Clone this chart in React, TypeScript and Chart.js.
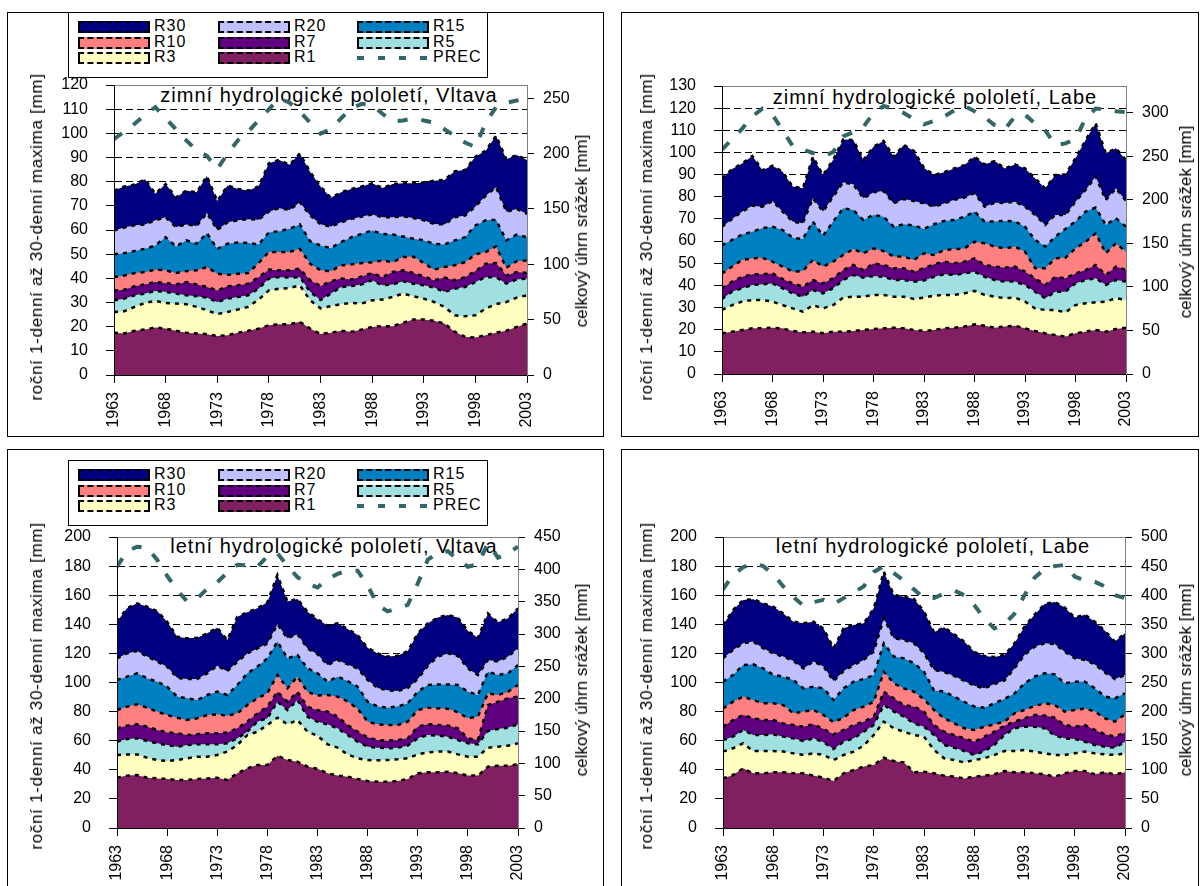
import React, { useEffect, useRef } from "react";
import { Chart, registerables } from "chart.js";

Chart.register(...registerables);

const FONT = "'Liberation Sans', Arial, Helvetica, sans-serif";
Chart.defaults.font.family = FONT;

// ---------- categories / ticks ----------
const YEARS = [
  1963, 1964, 1965, 1966, 1967, 1968, 1969, 1970, 1971, 1972,
  1973, 1974, 1975, 1976, 1977, 1978, 1979, 1980, 1981, 1982,
  1983, 1984, 1985, 1986, 1987, 1988, 1989, 1990, 1991, 1992,
  1993, 1994, 1995, 1996, 1997, 1998, 1999, 2000, 2001, 2002,
  2003,
];
const YEAR_TICKS = [1963, 1968, 1973, 1978, 1983, 1988, 1993, 1998, 2003];
const SERIES_NAMES = ["R30", "R20", "R15", "R10", "R7", "R5", "R3", "R1"];
const SERIES_COLORS = ["#000080", "#C0C0FF", "#0080C0", "#FF8080", "#600080", "#A0E0E0", "#FFFFC0", "#802060"];
const PREC_NAME = "PREC";
const PREC_COLOR = "#336666";

// ---------- winter, Vltava ----------
const W_VLT_R30 = [76.3, 78, 78.8, 81, 75, 79, 73.5, 76.3, 75.6, 82.3, 72, 78.4, 77, 76.3, 78, 87.6, 89, 87, 91.7, 84, 78, 73.3, 75.6, 77, 78, 79.3, 77.4, 79, 79.3, 79.3, 79.7, 80.4, 80.7, 84.3, 84.8, 90.3, 92.8, 99, 89.3, 91, 89];
const W_VLT_R20 = [59.8, 61, 62, 62.3, 64, 65.3, 61.2, 62.3, 61.7, 67, 60, 63.2, 64, 64.5, 64.2, 67.6, 69, 68.3, 71.5, 66, 62.4, 61.4, 63.2, 64.6, 65.6, 66.4, 65.3, 65.3, 65.6, 65, 64, 62.5, 62.3, 65.3, 66, 69.7, 74.2, 77.7, 67.6, 68.7, 66.7];
const W_VLT_R15 = [50, 50.4, 51.3, 52.2, 53.6, 57, 53.2, 55.7, 54.3, 58.7, 52.2, 54.3, 54.8, 54.6, 54, 59, 59.5, 60.5, 62.3, 55.3, 53.6, 52.5, 55, 57, 58.4, 59.8, 58.4, 58.1, 57.3, 56.4, 55.7, 54.3, 54, 55.7, 57, 61.9, 64, 64.2, 55.7, 58.1, 57];
const W_VLT_R10 = [40.5, 41.2, 42.2, 42.6, 43.6, 43.3, 42.2, 43, 43.3, 44.7, 41.9, 41.5, 41.9, 42.2, 46.3, 50.9, 50.9, 50.9, 52.2, 46, 43.3, 43, 45.4, 45.8, 46.3, 46.7, 47.4, 46.7, 48.8, 49, 46.3, 43.6, 44.7, 45.4, 46.7, 49.9, 50.9, 53.2, 44.4, 47.1, 47.4];
const W_VLT_R7 = [35, 35.3, 36.7, 37.5, 38.5, 38, 37.5, 38.5, 37.5, 36.4, 35, 36.7, 37.1, 37.8, 40.5, 43.6, 43.3, 43.3, 44, 39.2, 36.8, 38.8, 39.9, 39.5, 40.8, 42.2, 40.5, 42.6, 43.3, 42.2, 40.8, 39.2, 40.3, 39.2, 40.5, 43, 46, 46.3, 41.2, 42.6, 42.2];
const W_VLT_R5 = [30.9, 31.6, 33, 33.7, 34.8, 34.4, 33.7, 33, 32.6, 32, 30.2, 31.6, 32.3, 33, 35.7, 39.9, 40.5, 40.3, 40.5, 34.4, 31, 33.7, 36.4, 36.8, 37.5, 39.2, 37.1, 37.5, 38.8, 37.8, 37.1, 36.2, 34.4, 35.7, 36.4, 38.5, 40.5, 40.5, 37.8, 39.5, 39.9];
const W_VLT_R3 = [26.1, 26.4, 28.2, 29.8, 30.7, 29.8, 29.6, 29.3, 28.2, 26.8, 25.2, 26.1, 27.1, 28.2, 31.2, 35, 35.7, 36, 37.1, 30.9, 27.6, 28.5, 29.3, 29.8, 29.6, 30.9, 31.2, 32.3, 33.7, 32.6, 31.6, 30.2, 28.2, 24.7, 24.3, 24.7, 27.5, 29.3, 30.2, 32, 33];
const W_VLT_R1 = [17.5, 17.2, 18.3, 18.8, 19.7, 19.2, 18.3, 17.5, 17.2, 16.9, 16.1, 16.5, 17.5, 18.3, 19.2, 20.6, 21, 21, 22, 19.2, 17, 17.5, 18.3, 17.9, 18.8, 19.9, 20.2, 20.2, 21.6, 23, 23, 22.4, 21.3, 17.9, 15.8, 15.5, 16.5, 17.5, 18.3, 19.9, 21.3];
const W_VLT_PREC = [213, 220, 227, 235, 242, 232, 222, 212, 203, 198, 186, 200, 212, 220, 230, 240, 250, 246, 238, 228, 218, 222, 232, 241, 245, 244, 236, 229, 230, 232, 230, 228, 222, 216, 210, 206, 228, 242, 246, 248, 250];

// ---------- winter, Labe ----------
const W_LAB_R30 = [88.3, 92.5, 95, 98.4, 92, 94, 91.3, 84.6, 83.8, 98.1, 89.8, 96.6, 105.9, 105.6, 96.6, 102.6, 105.2, 98.1, 103.4, 100.7, 93, 89.8, 91.1, 92.8, 94.3, 98.1, 94.6, 96.1, 92.8, 94.6, 92.8, 88.3, 83.8, 89.8, 90.1, 97.4, 105.6, 113.2, 99.6, 101.9, 96.6];
const W_LAB_R20 = [66.5, 70, 73.3, 76, 75.5, 78.1, 73.3, 68.8, 68, 79.3, 73.3, 80, 86.5, 85.6, 79.3, 82, 82.6, 77, 79, 78.1, 77, 75.5, 77, 78.7, 79.6, 81.6, 75.5, 77.3, 77.2, 77.8, 75.5, 71.8, 67.3, 71.8, 71.8, 77.8, 83.1, 89.1, 78.5, 83.8, 78.1];
const W_LAB_R15 = [58.2, 60.5, 63, 64.2, 65.8, 66.5, 65, 61.5, 60.9, 68.8, 62.4, 68.8, 74.8, 74, 69.5, 71.8, 71, 66.5, 67.6, 67, 65.5, 67.6, 69.1, 69.5, 71, 73.3, 68.8, 68.8, 69.1, 68.8, 66.5, 60.5, 57.5, 62, 65.5, 68.8, 73.3, 75.1, 67.3, 70.3, 66.5];
const W_LAB_R10 = [45.4, 48.5, 51.5, 52.2, 52.5, 50.7, 48.5, 46.2, 46.5, 51.5, 48.5, 50.7, 53.7, 56.4, 54.5, 56.7, 55.5, 53, 53, 51.5, 54.5, 53.7, 56, 56.4, 56.7, 59.7, 59, 57.5, 56.7, 57.5, 55.2, 47.7, 47.7, 52.2, 52.5, 56.7, 59.7, 63.5, 54.5, 59, 55.2];
const W_LAB_R7 = [38.7, 41.7, 43.9, 45, 45, 45.4, 42.9, 40.9, 39.4, 42.4, 40.9, 43.2, 46.9, 49.2, 46.9, 49.9, 49.2, 47.7, 47.7, 46.2, 47.8, 49.5, 50.7, 50, 50.7, 52.2, 49.2, 48.5, 48, 48.5, 46.2, 43.2, 40.2, 43.9, 43.2, 45.4, 46.9, 49.2, 44.7, 48.5, 46.9];
const W_LAB_R5 = [33.9, 37.2, 38.7, 40.2, 40.5, 40.9, 38.7, 36.4, 34.9, 37.9, 36.4, 38.7, 42.4, 44.7, 43.5, 44.2, 43.9, 42.4, 42.4, 41.7, 42.2, 43.9, 45, 44.7, 45.4, 46.2, 43.9, 42.4, 41.7, 41.7, 40.2, 37.1, 34.2, 37.1, 37.1, 40.9, 42.4, 43.2, 40.2, 42.4, 41.7];
const W_LAB_R3 = [28.9, 31.1, 32.7, 33.4, 33.4, 32.7, 31.1, 29.6, 28.1, 31.1, 29.6, 31.1, 34.5, 34.9, 34.9, 35.7, 35.7, 34.9, 34.9, 33.9, 34.5, 35.4, 35.7, 35.7, 36.4, 37.5, 35.7, 34.9, 34.2, 34.5, 32.7, 29.6, 28.9, 28.9, 27.8, 31.1, 31.9, 32.4, 32.7, 34.2, 33.4];
const W_LAB_R1 = [18.4, 19.1, 19.9, 20.6, 20.6, 20.9, 20.6, 19.4, 18.8, 19.1, 18.4, 19.1, 19.1, 19.4, 19.9, 20.3, 20.6, 20.9, 20.6, 19.9, 19.4, 19.9, 20.6, 20.9, 21.4, 22.4, 21.8, 20.9, 21.4, 21.8, 20.6, 19.4, 18.4, 17.6, 16.9, 18.4, 19.1, 19.9, 19.1, 20.3, 20.9];
const W_LAB_PREC = [258, 270, 282, 296, 305, 298, 280, 262, 258, 254, 250, 255, 273, 278, 284, 300, 308, 305, 300, 293, 287, 291, 296, 303, 308, 302, 295, 286, 281, 296, 298, 288, 280, 263, 265, 270, 294, 305, 304, 302, 301];

// ---------- summer, Vltava ----------
const S_VLT_R30 = [141.8, 151, 154.4, 152.1, 149.1, 141.8, 131.5, 130.4, 130.8, 133.8, 137.7, 129.2, 145.2, 148.2, 151, 155.1, 173.9, 155.6, 157.4, 148.7, 143.5, 139.1, 140.7, 136.8, 132.6, 123.9, 120, 117.8, 118.4, 121.6, 133.8, 140.7, 144.6, 146.4, 144.6, 135.4, 130.8, 147.5, 141.4, 144.1, 151];
const S_VLT_R20 = [116.6, 120, 121.6, 117.8, 114.4, 110.9, 103.3, 102.4, 102.4, 106.3, 111.5, 107.8, 114.2, 120, 123.4, 126.8, 140, 130.4, 133.2, 123.4, 119.5, 112, 115.5, 112.4, 109.7, 101.7, 96.2, 94.7, 94.1, 96.2, 102.4, 111.3, 117.8, 120, 118.2, 109.7, 105.2, 115.5, 114.4, 117.8, 123.5];
const S_VLT_R15 = [101.7, 104, 106.3, 102.9, 100.6, 97.1, 90.3, 89.1, 88, 91.4, 93.7, 91.4, 98.3, 106.3, 110.9, 116.6, 128.1, 116.6, 118.9, 109.7, 106.3, 100.6, 104, 101, 97.1, 86.8, 83.5, 82.7, 83.5, 85.7, 93.7, 98.3, 98.7, 98.7, 98.3, 93.7, 91.4, 107.4, 105.2, 106.3, 112];
const S_VLT_R10 = [81.1, 83.4, 85, 82.7, 80, 77.7, 75.8, 74.2, 75.4, 77.7, 78.1, 77.2, 78.8, 84.5, 89.1, 92.6, 105.2, 96, 104, 93.7, 91, 91.4, 90.3, 87, 82, 73.1, 71.3, 70.8, 70.8, 73.1, 81.1, 82.7, 82.3, 82, 79.6, 75.4, 76.5, 92.6, 91.4, 93.7, 98.3];
const S_VLT_R7 = [68.5, 70.3, 71.3, 69.6, 67.4, 65.7, 65.1, 63.9, 64.4, 65.1, 65.1, 65.7, 68.5, 73.1, 78.8, 83.4, 93.7, 86.8, 93.7, 83.4, 81, 80, 76.5, 70.8, 66.2, 62.3, 60.5, 60, 60.5, 61.6, 69.6, 71.3, 70.8, 70.4, 68.5, 61.6, 60.5, 84.5, 86.8, 89.1, 90.3];
const S_VLT_R5 = [59.3, 61.2, 61.6, 59.8, 58.2, 57, 55.9, 57, 57.5, 57.5, 57.5, 58.2, 61.6, 66.2, 73.1, 75.4, 86.8, 81.1, 88, 76.5, 73, 71.3, 68.5, 63.9, 59.3, 55.9, 55.2, 54.8, 55.2, 56.6, 61.6, 63.9, 63.5, 62.8, 60.5, 58.2, 57.5, 66.7, 68, 69, 71.3];
const S_VLT_R3 = [50.2, 50.6, 50.6, 48.3, 46.7, 46, 46.7, 47.9, 49, 49, 50.2, 52.5, 57, 63.9, 66.2, 70.8, 75.8, 71.3, 74.2, 66.2, 63.4, 57.5, 55.2, 50.6, 47.9, 46.7, 46.5, 46.7, 47.2, 47.9, 50.6, 52, 52.5, 52.5, 50.6, 49, 49, 55.2, 55.9, 56.6, 58.2];
const S_VLT_R1 = [34.6, 36, 36.4, 34.6, 34.1, 33.7, 33, 33, 33.7, 34.1, 34.6, 33, 37.6, 41, 43.3, 43.3, 49.7, 46.7, 45.6, 42.2, 40.7, 37.6, 36, 35.3, 33.7, 32.3, 31.8, 31.8, 32.3, 33.7, 37.6, 38.3, 38.3, 38.7, 37.6, 36, 36, 42.2, 42.8, 42.8, 43.8];
const S_VLT_PREC = [404, 428, 435, 434, 415, 390, 368, 350, 355, 370, 380, 395, 407, 406, 404, 420, 425, 405, 388, 378, 372, 385, 393, 398, 398, 375, 345, 335, 340, 345, 378, 415, 425, 428, 415, 404, 408, 440, 418, 425, 435];

// ---------- summer, Labe ----------
const S_LAB_R30 = [139.5, 149.8, 156.7, 157.2, 154.4, 152.1, 147.5, 141.8, 140.7, 141.8, 137.2, 123.5, 137.2, 139.5, 140.7, 151, 176.2, 160.1, 159, 157.4, 149, 134.5, 137.9, 133.2, 128.1, 121.1, 118.2, 117.6, 118.9, 126.8, 138.4, 146.6, 153.9, 155.3, 151.5, 144.6, 146.6, 141.8, 135.5, 128.1, 133.8];
const S_LAB_R20 = [116.6, 122.3, 126.9, 128.1, 123.5, 120, 117.8, 114.8, 109.7, 114.4, 111, 101, 107.9, 112, 115.5, 121.2, 144.1, 130.4, 129.2, 126.9, 120, 108.6, 107.2, 104.5, 101.1, 97.8, 96, 99, 101.3, 109.7, 118.9, 124.5, 126.9, 126.4, 121.2, 116.6, 115.5, 112.4, 106.8, 102.4, 105.2];
const S_LAB_R15 = [100.6, 105.2, 112, 112.5, 109.7, 105.2, 104, 101.7, 96, 97.1, 96, 88, 96, 100.6, 102.4, 105.2, 126.9, 117.8, 116.6, 113.2, 107.4, 94.5, 93.7, 90.3, 86.6, 83.5, 82.7, 85.7, 88.7, 92.4, 99.4, 104, 106.3, 105.6, 99.4, 100.6, 100.6, 96, 90.3, 89.1, 92.6];
const S_LAB_R10 = [82.2, 86.8, 90.3, 88, 85.7, 85.7, 84.5, 78.8, 80, 81.1, 77.7, 72.6, 75.8, 81.1, 83.4, 86.8, 107.4, 99.4, 96, 93.7, 88.5, 81.1, 75.4, 71.9, 68.5, 67.4, 69.6, 71.3, 73.1, 78.8, 81.1, 83.9, 85.7, 84.5, 80, 81.1, 82.2, 80, 75.4, 73.1, 78.1];
const S_LAB_R7 = [69.6, 74.2, 77.7, 75.4, 74.2, 74.2, 71.9, 70.8, 69.6, 71.3, 68, 64.4, 67.4, 70.8, 73.1, 76.5, 93.7, 89.1, 84.5, 83.4, 80, 70.8, 66.2, 63.9, 61.6, 59.3, 62.8, 66.2, 70.3, 73.1, 75.4, 77.7, 77.3, 75.8, 70.8, 69.6, 70.8, 67.4, 64.4, 62.8, 65.7];
const S_LAB_R5 = [60.5, 62.8, 67.4, 63.9, 63.9, 64.4, 62.8, 61.6, 59.8, 61.6, 58.9, 54.3, 59.3, 61.6, 66.2, 70.8, 84.5, 80, 76.5, 71.9, 69.6, 63.9, 57, 55.2, 52.9, 50.2, 52.9, 57, 63.9, 68.5, 69.6, 69.6, 68.5, 63.5, 61.6, 61.2, 59.3, 57, 55.9, 55.2, 59.3];
const S_LAB_R3 = [52.5, 54.8, 58.2, 52.9, 52.9, 52.9, 52.5, 51.3, 50.2, 51.3, 50.2, 46.7, 50.2, 52.5, 56.6, 63.9, 73.1, 68.5, 66.2, 63.9, 62.8, 53.6, 47.9, 46.7, 45.1, 46.7, 47.9, 50.2, 52.9, 52.9, 53.6, 52.5, 51.3, 50.2, 50.2, 51.3, 52.5, 51.3, 50.6, 50.2, 51.3];
const S_LAB_R1 = [34.1, 36.4, 41, 37.6, 37.6, 38.3, 38.3, 37.6, 37.6, 36, 34.6, 32.3, 37.6, 39.9, 42.2, 43.3, 48.3, 46, 45.1, 38.3, 38.7, 37.6, 36, 35.3, 34.1, 35.3, 36, 36.9, 39.2, 38.3, 38.3, 37.6, 36.9, 35.3, 37.6, 39.2, 39.2, 36.9, 38.3, 36.9, 38.3];
const S_LAB_PREC = [410, 435, 448, 455, 450, 436, 415, 397, 382, 388, 392, 385, 395, 405, 415, 440, 450, 438, 425, 410, 395, 395, 403, 408, 400, 383, 360, 343, 350, 368, 400, 430, 445, 450, 452, 432, 425, 423, 415, 400, 395];

// ---------- texts ----------
const TITLE_W_VLT = "zimní hydrologické pololetí, Vltava";
const TITLE_W_LAB = "zimní hydrologické pololetí, Labe";
const TITLE_S_VLT = "letní hydrologické pololetí, Vltava";
const TITLE_S_LAB = "letní hydrologické pololetí, Labe";
const Y_LEFT_TITLE = "roční 1-denní až 30-denní maxima [mm]";
const Y_RIGHT_TITLE = "celkový úhrn srážek [mm]";

type Box = { left: number; top: number; width: number; height: number };
type PanelCfg = {
  frame: Box;
  canvas: Box;
  padTop: number;
  wl: number;
  wr: number;
  hx: number;
  yMax: number;
  yStep: number;
  y1Max: number;
  series: number[][];
  prec: number[];
  title: string;
  titleX: number;
  titleY: number;
  leftTitleX: number;
  leftTitleY: number;
  rightTitleX: number;
  rightTitleY: number;
  legendTop: number | null;
};

const PANELS: PanelCfg[] = [
  {
    frame: { left: 7, top: 12, width: 597, height: 425 },
    canvas: { left: 7, top: 12, width: 597, height: 425 },
    padTop: 73, wl: 107, wr: 77, hx: 62,
    yMax: 120, yStep: 10, y1Max: 262,
    series: [W_VLT_R30, W_VLT_R20, W_VLT_R15, W_VLT_R10, W_VLT_R7, W_VLT_R5, W_VLT_R3, W_VLT_R1],
    prec: W_VLT_PREC, title: TITLE_W_VLT, titleX: 329, titleY: 84,
    leftTitleX: 37, leftTitleY: 237, rightTitleX: 582, rightTitleY: 231, legendTop: 12,
  },
  {
    frame: { left: 621, top: 12, width: 578, height: 425 },
    canvas: { left: 621, top: 12, width: 578, height: 425 },
    padTop: 74, wl: 101, wr: 73, hx: 63,
    yMax: 130, yStep: 10, y1Max: 331,
    series: [W_LAB_R30, W_LAB_R20, W_LAB_R15, W_LAB_R10, W_LAB_R7, W_LAB_R5, W_LAB_R3, W_LAB_R1],
    prec: W_LAB_PREC, title: TITLE_W_LAB, titleX: 935, titleY: 86,
    leftTitleX: 647, leftTitleY: 237, rightTitleX: 1186, rightTitleY: 222, legendTop: null,
  },
  {
    frame: { left: 7, top: 449, width: 597, height: 445 },
    canvas: { left: 7, top: 449, width: 597, height: 437 },
    padTop: 88, wl: 110, wr: 86, hx: 58,
    yMax: 200, yStep: 20, y1Max: 450,
    series: [S_VLT_R30, S_VLT_R20, S_VLT_R15, S_VLT_R10, S_VLT_R7, S_VLT_R5, S_VLT_R3, S_VLT_R1],
    prec: S_VLT_PREC, title: TITLE_S_VLT, titleX: 334, titleY: 535,
    leftTitleX: 37, leftTitleY: 686, rightTitleX: 582, rightTitleY: 680, legendTop: 460,
  },
  {
    frame: { left: 621, top: 449, width: 578, height: 445 },
    canvas: { left: 621, top: 449, width: 578, height: 437 },
    padTop: 88, wl: 102, wr: 74, hx: 58,
    yMax: 200, yStep: 20, y1Max: 500,
    series: [S_LAB_R30, S_LAB_R20, S_LAB_R15, S_LAB_R10, S_LAB_R7, S_LAB_R5, S_LAB_R3, S_LAB_R1],
    prec: S_LAB_PREC, title: TITLE_S_LAB, titleX: 933, titleY: 535,
    leftTitleX: 647, leftTitleY: 686, rightTitleX: 1186, rightTitleY: 680, legendTop: null,
  },
];

const plotBorder = {
  id: "plotBorder",
  afterDatasetsDraw(chart: any) {
    const { ctx, chartArea } = chart;
    ctx.save();
    ctx.strokeStyle = "#808080";
    ctx.lineWidth = 1;
    ctx.beginPath();
    ctx.moveTo(chartArea.left, chartArea.top + 0.5);
    ctx.lineTo(chartArea.right, chartArea.top + 0.5);
    ctx.stroke();
    ctx.restore();
  },
};

function PanelChart({ cfg }: { cfg: PanelCfg }) {
  const ref = useRef<HTMLCanvasElement>(null);
  useEffect(() => {
    if (!ref.current) return;
    const datasets: any[] = cfg.series.map((vals, i) => ({
      label: SERIES_NAMES[i],
      data: vals,
      yAxisID: "y",
      fill: "origin",
      backgroundColor: SERIES_COLORS[i],
      borderColor: "#000000",
      borderWidth: 2.5,
      borderDash: [4, 5],
      pointRadius: 0,
      tension: 0,
      order: 8 - i,
    }));
    datasets.push({
      label: PREC_NAME,
      data: cfg.prec,
      yAxisID: "y1",
      fill: false,
      borderColor: PREC_COLOR,
      borderWidth: 4,
      borderDash: [10, 14],
      pointRadius: 0,
      tension: 0,
      order: 0,
    });
    const tickFont = { family: FONT, size: 16 };
    const chart = new Chart(ref.current, {
      type: "line",
      data: { labels: YEARS, datasets },
      plugins: [plotBorder],
      options: {
        animation: false,
        responsive: false,
        maintainAspectRatio: false,
        layout: { padding: { top: cfg.padTop, left: 0, right: 0, bottom: 0 } },
        plugins: { legend: { display: false }, tooltip: { enabled: false }, title: { display: false } },
        scales: {
          x: {
            type: "linear",
            min: 1963,
            max: 2003,
            afterBuildTicks: (s: any) => {
              s.ticks = YEAR_TICKS.map((v) => ({ value: v }));
            },
            afterFit: (s: any) => {
              s.height = cfg.hx;
            },
            grid: { drawOnChartArea: false, drawTicks: true, tickLength: 8, tickColor: "#000", color: "#000" },
            border: { color: "#000", width: 1, z: 1 },
            ticks: {
              minRotation: 90,
              maxRotation: 90,
              autoSkip: false,
              padding: 9,
              color: "#000",
              font: tickFont,
              callback: (v: any) => String(v),
            },
          },
          y: {
            position: "left",
            min: 0,
            max: cfg.yMax,
            afterFit: (s: any) => {
              s.width = cfg.wl;
            },
            ticks: { stepSize: cfg.yStep, autoSkip: false, color: "#000", font: tickFont, padding: 18, callback: (v: any) => String(v) },
            grid: { color: "#000", lineWidth: 1, tickColor: "#000", tickLength: 8 },
            border: { color: "#000", width: 1, dash: [7, 4], z: 1 },
          },
          y1: {
            position: "right",
            min: 0,
            max: cfg.y1Max,
            afterFit: (s: any) => {
              s.width = cfg.wr;
            },
            ticks: { stepSize: 50, autoSkip: false, includeBounds: false, color: "#000", font: tickFont, padding: 9, callback: (v: any) => String(v) },
            grid: { drawOnChartArea: false, tickColor: "#000", tickLength: 7 },
            border: { color: "#808080", width: 1, z: 1 },
          },
        },
      } as any,
    });
    return () => chart.destroy();
  }, [cfg]);
  const c = cfg.canvas;
  return (
    <canvas
      ref={ref}
      width={c.width}
      height={c.height}
      style={{ position: "absolute", left: c.left, top: c.top, width: c.width, height: c.height }}
    />
  );
}

const LEGEND_ITEMS = [...SERIES_NAMES.map((n, i) => ({ name: n, color: SERIES_COLORS[i] })), { name: PREC_NAME, color: PREC_COLOR }];

function Legend({ left, top }: { left: number; top: number }) {
  const colX = [9, 149, 288];
  const rowY = [8, 24, 39];
  return (
    <div
      style={{
        position: "absolute",
        left,
        top,
        width: 420,
        height: 66,
        boxSizing: "border-box",
        border: "1px solid #000",
        background: "#fff",
      }}
    >
      {LEGEND_ITEMS.map((it, i) => {
        const c = i % 3;
        const r = Math.floor(i / 3);
        const isLine = it.name === PREC_NAME;
        return (
          <React.Fragment key={it.name}>
            {isLine ? (
              <svg style={{ position: "absolute", left: colX[c], top: rowY[r], width: 72, height: 12 }} width={72} height={12}>
                <line x1={0} y1={6} x2={72} y2={6} stroke={PREC_COLOR} strokeWidth={4} strokeDasharray="7 14" />
              </svg>
            ) : (
              <div
                style={{
                  position: "absolute",
                  left: colX[c],
                  top: rowY[r],
                  width: 72,
                  height: 12,
                  boxSizing: "border-box",
                  background: it.color,
                  border: "2px dashed #000",
                }}
              />
            )}
            <div
              style={{
                position: "absolute",
                left: colX[c] + 76,
                top: rowY[r] - 4,
                fontFamily: FONT,
                fontSize: 16,
                lineHeight: "18px",
                letterSpacing: 1,
                color: "#000",
                whiteSpace: "nowrap",
              }}
            >
              {it.name}
            </div>
          </React.Fragment>
        );
      })}
    </div>
  );
}

function RotText({ x, y, text, spacing }: { x: number; y: number; text: string; spacing: number }) {
  return (
    <div
      style={{
        position: "absolute",
        left: x,
        top: y,
        transform: "translate(-50%, -50%) rotate(-90deg)",
        fontFamily: FONT,
        fontSize: 17,
        lineHeight: "20px",
        letterSpacing: spacing,
        whiteSpace: "nowrap",
        color: "#000",
      }}
    >
      {text}
    </div>
  );
}

export default function App() {
  return (
    <div style={{ position: "absolute", left: 0, top: 0, width: 1200, height: 886, overflow: "hidden", background: "#fff" }}>
      {PANELS.map((p, i) => (
        <React.Fragment key={i}>
          <div
            style={{
              position: "absolute",
              left: p.frame.left,
              top: p.frame.top,
              width: p.frame.width,
              height: p.frame.height,
              boxSizing: "border-box",
              border: "1px solid #000",
            }}
          />
          <div
            style={{
              position: "absolute",
              left: p.titleX,
              top: p.titleY,
              transform: "translateX(-50%)",
              fontFamily: FONT,
              fontSize: 20,
              lineHeight: "23px",
              letterSpacing: 1,
              whiteSpace: "nowrap",
              color: "#000",
            }}
          >
            {p.title}
          </div>
          <PanelChart cfg={p} />
          <RotText x={p.leftTitleX} y={p.leftTitleY} text={Y_LEFT_TITLE} spacing={0.7} />
          <RotText x={p.rightTitleX} y={p.rightTitleY} text={Y_RIGHT_TITLE} spacing={0} />
          {p.legendTop !== null ? <Legend left={68} top={p.legendTop} /> : null}
        </React.Fragment>
      ))}
    </div>
  );
}
